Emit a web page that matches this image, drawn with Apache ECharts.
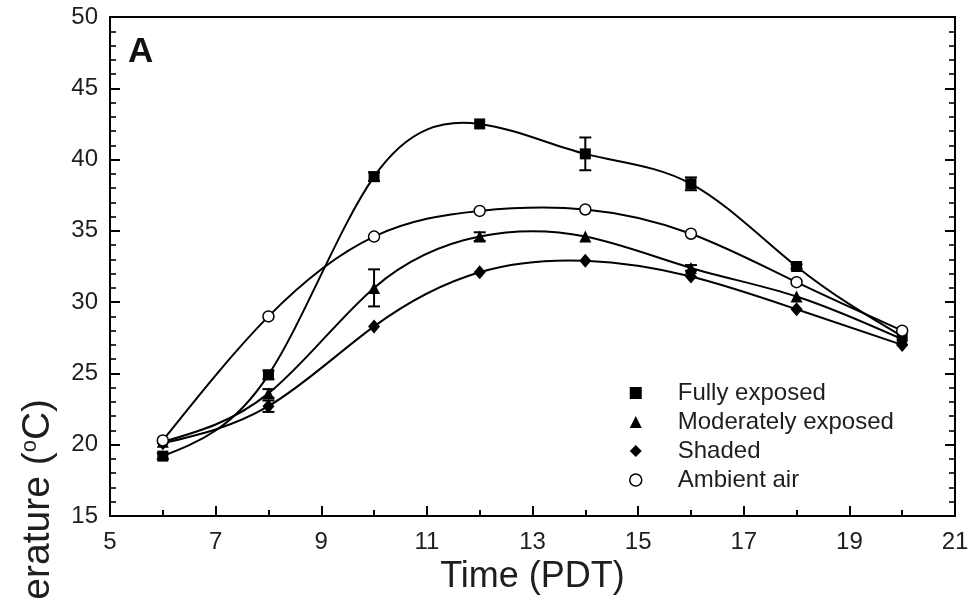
<!DOCTYPE html>
<html>
<head>
<meta charset="utf-8">
<script src="https://cdn.jsdelivr.net/npm/echarts@6/dist/echarts.min.js"></script>
<style>html,body{margin:0;padding:0;background:#fff}#c{width:979px;height:600px}</style>
</head>
<body>
<div id="c"></div>
<script>
// ---- data ----
var times = [6, 8, 10, 12, 14, 16, 18, 20];
var fullyExposed = [19.2, 24.9, 38.8, 42.5, 40.4, 38.3, 32.5, 27.6];
var moderatelyExposed = [20.2, 23.6, 31.0, 34.6, 34.6, 32.4, 30.4, 27.4];
var shaded = [20.1, 22.7, 28.3, 32.1, 32.9, 31.8, 29.5, 27.0];
var ambientAir = [20.3, 29.0, 34.6, 36.4, 36.5, 34.8, 31.4, 28.0];
var fullyErr = [0.2, 0.3, 0.3, 0, 1.15, 0.45, 0.15, 0];
var moderateErr = [0, 0.3, 1.3, 0.3, 0, 0.2, 0, 0];
var shadedErr = [0, 0.4, 0, 0, 0, 0, 0, 0];
var seriesNames = ['Fully exposed', 'Moderately exposed', 'Shaded', 'Ambient air'];
var xMajorTicks = [5, 7, 9, 11, 13, 15, 17, 19, 21];
var xMinorTicks = [6, 8, 10, 12, 14, 16, 18, 20];

var FONT = 'Liberation Sans, Arial, Helvetica, sans-serif';
var TXT = '#1e1e1e';

function pairs(vals) { return times.map(function (t, i) { return [t, vals[i]]; }); }
function errData(vals, errs) {
  var out = [];
  times.forEach(function (t, i) { if (errs[i] > 0) out.push([t, vals[i], errs[i]]); });
  return out;
}
var errorBars = errData(fullyExposed, fullyErr)
  .concat(errData(moderatelyExposed, moderateErr))
  .concat(errData(shaded, shadedErr));

// natural cubic spline slopes (rendering helper for the curve through the data points)
function splineSlopes(xs, ys) {
  var n = xs.length, h = [], i;
  for (i = 0; i < n - 1; i++) h.push(xs[i + 1] - xs[i]);
  var a = [], b = [], c = [], d = [];
  for (i = 0; i < n; i++) {
    if (i === 0 || i === n - 1) { a.push(0); b.push(1); c.push(0); d.push(0); continue; }
    a.push(h[i - 1]); b.push(2 * (h[i - 1] + h[i])); c.push(h[i]);
    d.push(6 * ((ys[i + 1] - ys[i]) / h[i] - (ys[i] - ys[i - 1]) / h[i - 1]));
  }
  for (i = 1; i < n; i++) {
    var w = a[i] / b[i - 1];
    b[i] -= w * c[i - 1]; d[i] -= w * d[i - 1];
  }
  var M = new Array(n);
  M[n - 1] = d[n - 1] / b[n - 1];
  for (i = n - 2; i >= 0; i--) M[i] = (d[i] - c[i] * M[i + 1]) / b[i];
  var m = [];
  for (i = 0; i < n - 1; i++) m.push((ys[i + 1] - ys[i]) / h[i] - h[i] * (2 * M[i] + M[i + 1]) / 6);
  m.push((ys[n - 1] - ys[n - 2]) / h[n - 2] + h[n - 2] * (M[n - 2] + 2 * M[n - 1]) / 6);
  return m;
}

function curveSeries(vals) {
  var slopes = splineSlopes(times, vals);
  var segs = [];
  for (var i = 0; i < times.length - 1; i++) segs.push([times[i], vals[i], slopes[i], times[i + 1], vals[i + 1], slopes[i + 1]]);
  return {
    type: 'custom', xAxisIndex: 0, yAxisIndex: 0, z: 2, silent: true,
    data: segs,
    renderItem: function (params, api) {
      var x0 = api.value(0), y0 = api.value(1), m0 = api.value(2);
      var x1 = api.value(3), y1 = api.value(4), m1 = api.value(5);
      var hh = (x1 - x0) / 3;
      var p0 = api.coord([x0, y0]), p1 = api.coord([x1, y1]);
      var c0 = api.coord([x0 + hh, y0 + m0 * hh]);
      var c1 = api.coord([x1 - hh, y1 - m1 * hh]);
      return {
        type: 'bezierCurve',
        shape: { x1: p0[0], y1: p0[1], x2: p1[0], y2: p1[1], cpx1: c0[0], cpy1: c0[1], cpx2: c1[0], cpy2: c1[1] },
        style: { stroke: '#000', lineWidth: 2, fill: null }
      };
    }
  };
}

var chart = echarts.init(document.getElementById('c'), null, { renderer: 'canvas' });

var markBase = { type: 'line', xAxisIndex: 0, yAxisIndex: 0,
  lineStyle: { color: '#000', width: 2, opacity: 0 }, emphasis: { disabled: true }, z: 3 };

chart.setOption({
  animation: false,
  backgroundColor: '#fff',
  title: { text: 'A', left: 123, top: 30, textStyle: { fontFamily: FONT, fontSize: 35, fontWeight: 'bold', color: '#111' } },
  grid: { left: 110, right: 24, top: 17, bottom: 84, show: true, borderColor: '#000', borderWidth: 2, backgroundColor: 'transparent' },
  legend: {
    orient: 'vertical', left: 624, top: 376, itemWidth: 12, itemHeight: 12, itemGap: 5,
    selectedMode: false,
    textStyle: { fontFamily: FONT, fontSize: 24, color: TXT, padding: [0, 0, 0, 31] },
    data: [
      { name: seriesNames[0], icon: 'rect' },
      { name: seriesNames[1], icon: 'triangle' },
      { name: seriesNames[2], icon: 'diamond' },
      { name: seriesNames[3], icon: 'circle', itemStyle: { color: '#fff', borderColor: '#000', borderWidth: 1.5 } }
    ]
  },
  xAxis: [
    {
      type: 'value', min: 5, max: 21, interval: 1, position: 'bottom',
      axisLine: { show: true, onZero: false, lineStyle: { color: '#000', width: 2 } },
      axisTick: { show: true, inside: true, length: 10, customValues: xMajorTicks, lineStyle: { color: '#000', width: 2 } },
      axisLabel: { customValues: xMajorTicks, fontFamily: FONT, fontSize: 24, color: TXT, margin: 14 },
      splitLine: { show: false },
      name: 'Time (PDT)', nameLocation: 'middle', nameGap: 42,
      nameTextStyle: { fontFamily: FONT, fontSize: 36, color: TXT }
    },
    {
      type: 'value', min: 5, max: 21, interval: 1, position: 'bottom',
      axisLine: { show: false, onZero: false },
      axisTick: { show: true, inside: true, length: 6, customValues: xMinorTicks, lineStyle: { color: '#000', width: 2 } },
      axisLabel: { show: false },
      splitLine: { show: false }
    }
  ],
  yAxis: [
    {
      type: 'value', min: 15, max: 50, interval: 5, position: 'left',
      axisLine: { show: true, onZero: false, lineStyle: { color: '#000', width: 2 } },
      axisTick: { show: true, inside: true, length: 10, lineStyle: { color: '#000', width: 2 } },
      minorTick: { show: true, splitNumber: 5, length: 6, lineStyle: { color: '#000', width: 1.6 } },
      axisLabel: { fontFamily: FONT, fontSize: 24, color: TXT, margin: 12 },
      splitLine: { show: false }
    },
    {
      type: 'value', min: 15, max: 50, interval: 5, position: 'right',
      axisLine: { show: true, onZero: false, lineStyle: { color: '#000', width: 2 } },
      axisTick: { show: true, inside: true, length: 10, lineStyle: { color: '#000', width: 2 } },
      minorTick: { show: true, splitNumber: 5, length: 6, lineStyle: { color: '#000', width: 1.6 } },
      axisLabel: { show: false },
      splitLine: { show: false }
    }
  ],
  graphic: [
    {
      type: 'text', x: 38, y: 547, rotation: Math.PI / 2,
      style: {
        text: 'Temperature ({s|o}C)', fontFamily: FONT, fontSize: 39, fill: TXT,
        align: 'center', verticalAlign: 'middle',
        rich: { s: { fontSize: 22, fontFamily: FONT, fill: TXT, verticalAlign: 'top' } }
      }
    }
  ],
  series: [
    curveSeries(fullyExposed),
    curveSeries(moderatelyExposed),
    curveSeries(shaded),
    curveSeries(ambientAir),
    Object.assign({}, markBase, { name: seriesNames[0], data: pairs(fullyExposed), symbol: 'rect', symbolSize: 11,
      itemStyle: { color: '#000' } }),
    Object.assign({}, markBase, { name: seriesNames[1], data: pairs(moderatelyExposed), symbol: 'triangle', symbolSize: 12,
      itemStyle: { color: '#000' } }),
    Object.assign({}, markBase, { name: seriesNames[2], data: pairs(shaded), symbol: 'diamond', symbolSize: [12, 14],
      itemStyle: { color: '#000' } }),
    Object.assign({}, markBase, { name: seriesNames[3], data: pairs(ambientAir), symbol: 'circle', symbolSize: 11,
      itemStyle: { color: '#fff', borderColor: '#000', borderWidth: 1.5 }, z: 4 }),
    {
      type: 'custom', name: 'errors', xAxisIndex: 0, yAxisIndex: 0, z: 5, silent: true,
      data: errorBars,
      renderItem: function (params, api) {
        var x = api.value(0), y = api.value(1), e = api.value(2);
        var hi = api.coord([x, y + e]);
        var lo = api.coord([x, y - e]);
        var w = 6;
        var st = { stroke: '#000', lineWidth: 2 };
        return {
          type: 'group',
          children: [
            { type: 'line', shape: { x1: hi[0], y1: hi[1], x2: lo[0], y2: lo[1] }, style: st },
            { type: 'line', shape: { x1: hi[0] - w, y1: hi[1], x2: hi[0] + w, y2: hi[1] }, style: st },
            { type: 'line', shape: { x1: lo[0] - w, y1: lo[1], x2: lo[0] + w, y2: lo[1] }, style: st }
          ]
        };
      }
    }
  ]
});
</script>
</body>
</html>
